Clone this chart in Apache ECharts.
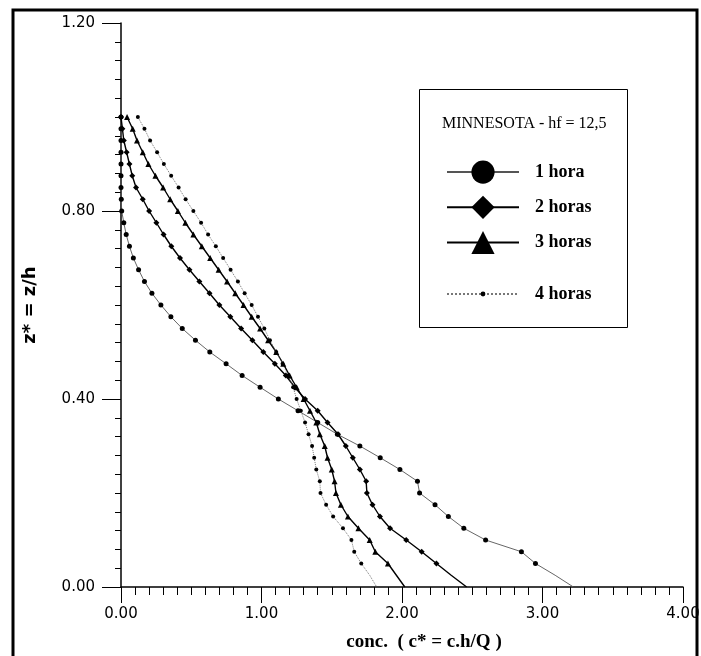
<!DOCTYPE html>
<html><head><meta charset="utf-8">
<script src="https://cdn.jsdelivr.net/npm/echarts@6/dist/echarts.min.js"></script>
<style>html,body{margin:0;padding:0;background:#fff}#c{width:701px;height:656px}</style>
</head><body><div id="c"></div>
<script>
// z* levels (vertical), shared by all series
const zLevels = [1.000,0.975,0.950,0.925,0.900,0.875,0.850,0.825,0.800,0.775,0.750,0.725,0.700,0.675,0.650,0.625,0.600,0.575,0.550,0.525,0.500,0.475,0.450,0.425,0.400,0.375,0.350,0.325,0.300,0.275,0.250,0.225,0.200,0.175,0.150,0.125,0.100,0.075,0.050,0.025,0.000];
// concentration c* for each series
const hora1  = [0,0,0,0,0,0,0,0.002,0.005,0.02,0.037,0.06,0.088,0.125,0.167,0.22,0.284,0.355,0.436,0.53,0.632,0.748,0.862,0.99,1.12,1.26,1.40,1.54,1.70,1.845,1.985,2.11,2.125,2.235,2.33,2.44,2.595,2.85,2.95,3.09,3.22];
const horas2 = [0,0.01,0.02,0.04,0.06,0.08,0.107,0.155,0.20,0.252,0.303,0.358,0.42,0.487,0.558,0.63,0.70,0.778,0.855,0.935,1.013,1.095,1.173,1.237,1.31,1.40,1.47,1.545,1.60,1.65,1.70,1.745,1.75,1.79,1.843,1.915,2.03,2.14,2.245,2.35,2.46];
const horas3 = [0.043,0.083,0.114,0.155,0.195,0.245,0.30,0.35,0.405,0.458,0.515,0.575,0.635,0.695,0.755,0.813,0.872,0.93,0.99,1.047,1.105,1.155,1.20,1.25,1.30,1.345,1.39,1.415,1.45,1.47,1.50,1.52,1.53,1.565,1.615,1.69,1.77,1.81,1.90,1.96,2.02];
const horas4 = [0.12,0.167,0.207,0.257,0.305,0.357,0.41,0.46,0.515,0.57,0.62,0.675,0.727,0.78,0.832,0.88,0.93,0.975,1.02,1.06,1.105,1.15,1.19,1.225,1.25,1.28,1.31,1.335,1.36,1.375,1.39,1.415,1.42,1.46,1.51,1.58,1.64,1.66,1.71,1.77,1.82];
const seriesNames = ['1 hora','2 horas','3 horas','4 horas'];
const titleText = 'MINNESOTA - hf = 12,5';
const xName = 'conc.  ( c* = c.h/Q )';
const yName = 'z* = z/h';

function pairs(xs){
  return xs.map((x,i)=>{
    const it = {value:[x, zLevels[i]]};
    if (zLevels[i] < 0.04) it.symbol = 'none';
    return it;
  });
}

const chart = echarts.init(document.getElementById('c'), null, {renderer:'canvas'});
const serif = 'Liberation Serif';
const sans = 'DejaVu Sans';
chart.setOption({
  animation:false,
  backgroundColor:'#fff',
  grid:{left:121, right:18, top:23, bottom:69, containLabel:false, outerBoundsMode:'none'},
  title:{text:titleText, left:437, top:111, textStyle:{fontFamily:serif, fontSize:16, fontWeight:'normal', color:'#000'}},
  legend:[
    {data:seriesNames.slice(0,3), orient:'vertical', left:441, top:155.5, itemWidth:72, itemHeight:29, itemGap:12,
     textStyle:{fontFamily:serif, fontWeight:'bold', fontSize:18, color:'#000', padding:[0,0,0,11]}},
    {data:[seriesNames[3]], orient:'vertical', left:441, top:280, itemWidth:72, itemHeight:6,
     textStyle:{fontFamily:serif, fontWeight:'bold', fontSize:18, color:'#000', padding:[0,0,0,11]}}
  ],
  xAxis:{type:'value', min:0, max:4, interval:1,
    name:xName, nameLocation:'middle', nameGap:46,
    nameTextStyle:{fontFamily:serif, fontWeight:'bold', fontSize:19, color:'#000', padding:[0,0,0,44]},
    axisLine:{lineStyle:{color:'#000', width:1.5}},
    axisTick:{show:true, inside:false, length:16, lineStyle:{color:'#000', width:1}},
    minorTick:{show:true, splitNumber:10, length:8, lineStyle:{color:'#000', width:1}},
    splitLine:{show:false},
    axisLabel:{margin:20, fontFamily:sans, fontSize:15, color:'#000', formatter:v=>v.toFixed(2)}
  },
  yAxis:{type:'value', min:0, max:1.2, interval:0.4,
    name:yName, nameLocation:'middle', nameGap:82, nameRotate:90,
    nameTextStyle:{fontFamily:sans, fontWeight:'bold', fontSize:18, color:'#000'},
    axisLine:{lineStyle:{color:'#000', width:1.5}},
    axisTick:{show:true, inside:false, length:19, lineStyle:{color:'#000', width:1}},
    minorTick:{show:true, splitNumber:10, length:6, lineStyle:{color:'#000', width:1}},
    splitLine:{show:false},
    axisLabel:{margin:26, fontFamily:sans, fontSize:15, color:'#000', formatter:v=>v.toFixed(2)}
  },
  graphic:[
    {type:'rect', shape:{x:13, y:10, width:684, height:700}, style:{fill:'none', stroke:'#000', lineWidth:3}, silent:true},
    {type:'rect', shape:{x:419.5, y:89.5, width:208, height:238}, style:{fill:'none', stroke:'#000', lineWidth:1}, silent:true, z:-1}
  ],
  series:[
    {name:seriesNames[0], type:'line', data:pairs(hora1), symbol:'circle', symbolSize:5,
     lineStyle:{color:'#555', width:0.9}, itemStyle:{color:'#000'}},
    {name:seriesNames[1], type:'line', data:pairs(horas2), symbol:'diamond', symbolSize:6,
     lineStyle:{color:'#000', width:1.4}, itemStyle:{color:'#000'}},
    {name:seriesNames[2], type:'line', data:pairs(horas3), symbol:'triangle', symbolSize:6,
     lineStyle:{color:'#000', width:1.4}, itemStyle:{color:'#000'}},
    {name:seriesNames[3], type:'line', data:pairs(horas4), symbol:'circle', symbolSize:4,
     lineStyle:{color:'#777', width:1, type:'dotted'}, itemStyle:{color:'#000'}}
  ]
});
</script></body></html>
